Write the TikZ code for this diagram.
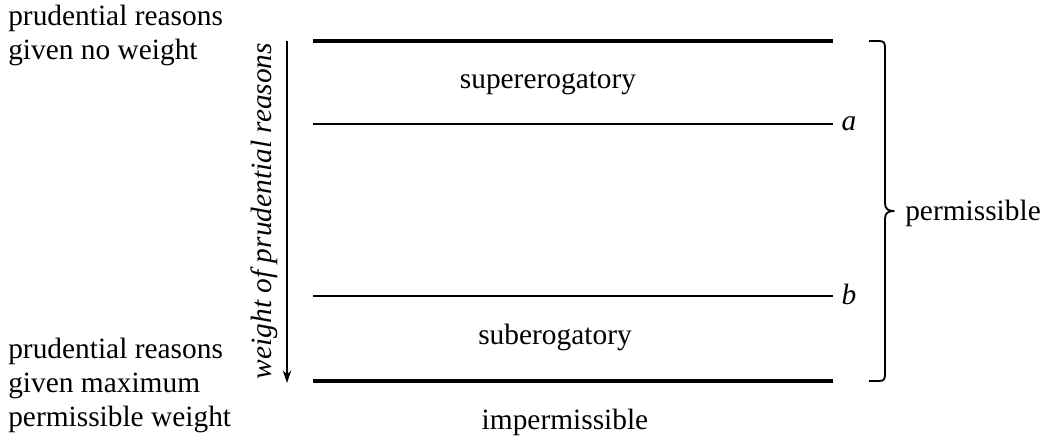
\documentclass[tikz,border=0pt]{standalone}
\usepackage{fontspec}
\setmainfont{Liberation Serif}
\usetikzlibrary{arrows.meta}
\begin{document}
\begin{tikzpicture}[x=0.025cm,y=-0.025cm,
  txt/.style={inner sep=0pt,font=\fontsize{20.9}{24.2}\selectfont},
  heavyline/.style={line width=2.2pt},
  lightline/.style={line width=1.5pt},
  axisline/.style={line width=0.9pt,-{Stealth[length=9pt,width=6pt]}},
  bracestyle/.style={line width=1.3pt,line join=round}]
\useasboundingbox (0,0) rectangle (1057,441);
% horizontal lines
\coordinate (t0) at (313,41);  \coordinate (t1) at (833,41);
\coordinate (a0) at (313,124); \coordinate (a1) at (833,124);
\coordinate (b0) at (313,296); \coordinate (b1) at (833,296);
\coordinate (z0) at (313,381); \coordinate (z1) at (833,381);
\draw[heavyline] (t0) -- (t1);
\draw[lightline] (a0) -- (a1);
\draw[lightline] (b0) -- (b1);
\draw[heavyline] (z0) -- (z1);
% axis arrow
\coordinate (ar0) at (287,41);
\coordinate (ar1) at (287,383);
\draw[axisline] (ar0) -- (ar1);
\node[txt,rotate=90,font=\fontsize{20.9}{24.2}\selectfont\itshape] (wt) at (264,211) {weight of prudential reasons};
% left labels
\node[txt,align=left,anchor=north west] (top) at (8,5) {prudential reasons\\given no weight};
\node[txt,align=left,anchor=north west] (bot) at (8,338) {prudential reasons\\given maximum\\permissible weight};
% region labels
\node[txt] (sup) at (548,83) {supererogatory};
\node[txt] (sub) at (555,337) {suberogatory};
\node[txt] (imp) at (565,422) {impermissible};
\node[txt,font=\fontsize{20.9}{24.2}\selectfont\itshape] (la) at (849,124) {a};
\node[txt,font=\fontsize{20.9}{24.2}\selectfont\itshape] (lb) at (849,294) {b};
% brace
\coordinate (br0) at (869,41);
\coordinate (br1) at (869,381);
\coordinate (brtip) at (894,211);
\draw[bracestyle] (br0) -- (879,41) .. controls (884,41) and (885,43) .. (885,48)
  -- (885,203) .. controls (885,209) and (888,211) .. (brtip)
  .. controls (888,211) and (885,213) .. (885,219)
  -- (885,374) .. controls (885,379) and (884,381) .. (879,381) -- (br1);
\node[txt,anchor=west] (perm) at (905,213) {permissible};
\end{tikzpicture}
\end{document}
